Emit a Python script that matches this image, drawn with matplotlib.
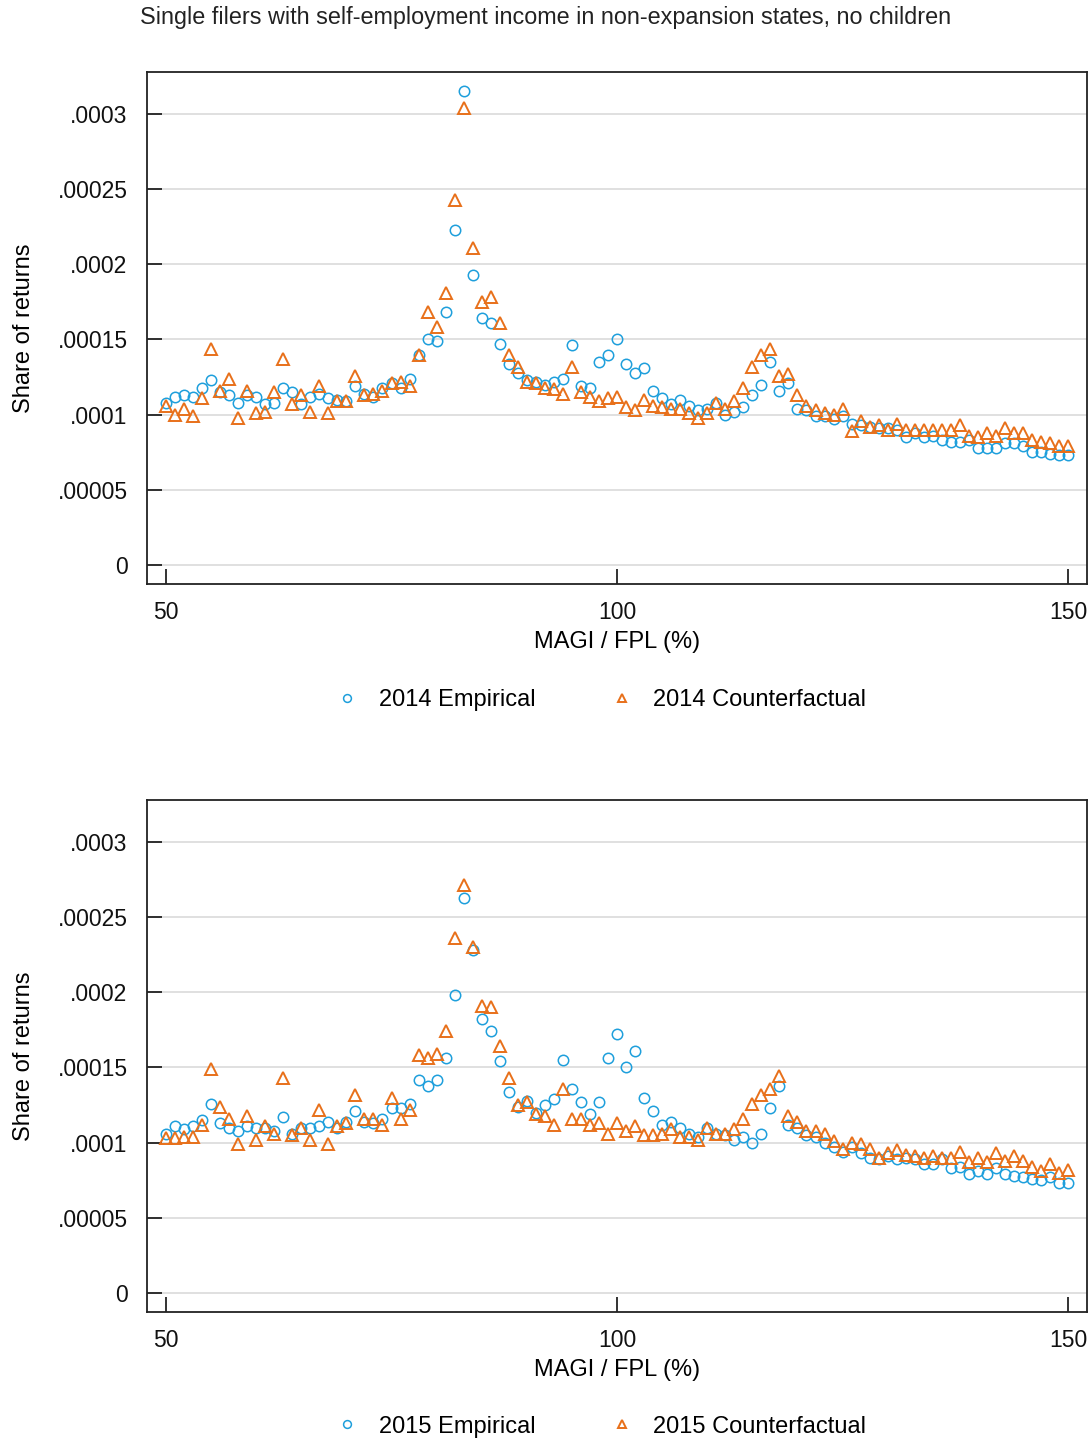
import numpy as np
import matplotlib.pyplot as plt

plt.rcParams['font.family'] = ['Liberation Sans', 'DejaVu Sans']

BLUE = '#1e9fdc'
ORANGE = '#e8701a'

magi = np.arange(50, 151)

# values in units of 1e-5 (share of returns)
emp_2014 = [10.8, 11.2, 11.3, 11.2, 11.8, 12.3, 11.5, 11.3, 10.8, 11.3,
            11.2, 10.7, 10.8, 11.8, 11.5, 10.7, 11.2, 11.4, 11.1, 11.0,
            10.9, 11.9, 11.4, 11.2, 11.8, 12.1, 11.8, 12.4, 14.0, 15.0,
            14.9, 16.8, 22.3, 31.5, 19.3, 16.4, 16.1, 14.7, 13.4, 12.8,
            12.3, 12.2, 12.0, 12.2, 12.4, 14.6, 11.9, 11.8, 13.5, 14.0,
            15.0, 13.4, 12.8, 13.1, 11.6, 11.1, 10.7, 11.0, 10.6, 10.3,
            10.4, 10.8, 10.0, 10.2, 10.5, 11.3, 12.0, 13.5, 11.6, 12.1,
            10.4, 10.3, 9.9, 9.9, 9.7, 9.9, 9.4, 9.3, 9.2, 9.1,
            9.1, 9.0, 8.5, 8.8, 8.5, 8.6, 8.3, 8.2, 8.2, 8.3,
            7.8, 7.8, 7.8, 8.1, 8.1, 7.9, 7.5, 7.5, 7.4, 7.3,
            7.3]
cf_2014 = [10.6, 10.0, 10.4, 9.9, 11.1, 14.4, 11.6, 12.4, 9.8, 11.6,
           10.1, 10.2, 11.5, 13.7, 10.7, 11.3, 10.2, 11.9, 10.1, 10.9,
           10.9, 12.6, 11.3, 11.4, 11.6, 12.1, 12.2, 11.9, 14.0, 16.8,
           15.8, 18.1, 24.3, 30.4, 21.1, 17.5, 17.8, 16.1, 14.0, 13.2,
           12.2, 12.1, 11.8, 11.7, 11.4, 13.2, 11.5, 11.2, 10.9, 11.1,
           11.2, 10.5, 10.3, 11.0, 10.6, 10.5, 10.4, 10.4, 10.1, 9.8,
           10.1, 10.8, 10.4, 10.9, 11.8, 13.2, 14.0, 14.4, 12.6, 12.7,
           11.3, 10.6, 10.3, 10.1, 10.0, 10.4, 8.9, 9.6, 9.2, 9.3,
           9.0, 9.4, 9.0, 9.0, 9.0, 9.0, 9.0, 9.0, 9.3, 8.6,
           8.5, 8.8, 8.6, 9.1, 8.8, 8.8, 8.3, 8.2, 8.1, 7.9,
           7.9]
emp_2015 = [10.6, 11.1, 10.9, 11.1, 11.5, 12.6, 11.3, 11.0, 10.8, 11.1,
            11.0, 11.0, 10.8, 11.7, 10.6, 11.0, 11.0, 11.1, 11.4, 11.0,
            11.4, 12.1, 11.4, 11.3, 11.6, 12.3, 12.3, 12.6, 14.2, 13.8,
            14.2, 15.6, 19.8, 26.3, 22.8, 18.2, 17.4, 15.4, 13.4, 12.4,
            12.8, 12.0, 12.5, 12.9, 15.5, 13.6, 12.7, 11.9, 12.7, 15.6,
            17.2, 15.0, 16.1, 13.0, 12.1, 11.2, 11.4, 11.0, 10.6, 10.4,
            11.0, 10.6, 10.5, 10.2, 10.4, 10.0, 10.6, 12.3, 13.8, 11.2,
            11.0, 10.5, 10.4, 10.0, 9.7, 9.4, 9.7, 9.3, 9.0, 8.9,
            9.1, 8.9, 9.0, 8.9, 8.6, 8.6, 8.9, 8.3, 8.4, 7.9,
            8.1, 7.9, 8.3, 7.9, 7.8, 7.7, 7.6, 7.5, 7.7, 7.3,
            7.3]
cf_2015 = [10.3, 10.3, 10.4, 10.4, 11.2, 14.9, 12.4, 11.6, 9.9, 11.8,
           10.2, 11.1, 10.6, 14.3, 10.5, 11.0, 10.2, 12.2, 9.9, 11.1,
           11.3, 13.2, 11.6, 11.6, 11.2, 13.0, 11.6, 12.2, 15.8, 15.6,
           15.9, 17.4, 23.6, 27.1, 23.0, 19.1, 19.0, 16.4, 14.3, 12.5,
           12.7, 11.9, 11.8, 11.2, 13.6, 11.6, 11.6, 11.2, 11.3, 10.6,
           11.3, 10.8, 11.1, 10.5, 10.5, 10.6, 10.9, 10.4, 10.4, 10.2,
           11.0, 10.6, 10.6, 10.9, 11.6, 12.6, 13.2, 13.6, 14.4, 11.8,
           11.4, 10.8, 10.8, 10.6, 10.1, 9.6, 10.0, 9.9, 9.6, 9.0,
           9.3, 9.5, 9.2, 9.1, 9.0, 9.1, 9.0, 9.0, 9.4, 8.7,
           9.0, 8.7, 9.3, 8.8, 9.1, 8.8, 8.4, 8.1, 8.6, 8.0,
           8.2]

panels = [("2014", emp_2014, cf_2014), ("2015", emp_2015, cf_2015)]

yticks = [0, 0.00005, 0.0001, 0.00015, 0.0002, 0.00025, 0.0003]
yticklabels = ["0", ".00005", ".0001", ".00015", ".0002", ".00025", ".0003"]

fig = plt.figure(figsize=(10.9, 14.41), dpi=100)
fig.text(0.128, 0.988, "Single filers with self-employment income in non-expansion states, no children",
         fontsize=16.8, ha='left', va='center', color='#222222')

bottoms = [0.5947, 0.0895]
legend_y = [0.514, 0.010]
for (year, emp, cf), b, ly in zip(panels, bottoms, legend_y):
    ax = fig.add_axes([0.1349, b, 0.8624, 0.3555])
    ax.plot(magi, np.array(emp) * 1e-5, 'o', ms=7.5, mfc='none', mec=BLUE, mew=1.1,
            label=year + " Empirical", zorder=3)
    ax.plot(magi, np.array(cf) * 1e-5, '^', ms=8, mfc='none', mec=ORANGE, mew=1.4,
            label=year + " Counterfactual", zorder=3)
    ax.set_xlim(47.9, 152.1)
    ax.set_ylim(-0.0000126, 0.000328)
    ax.set_xticks([50, 100, 150])
    ax.set_yticks(yticks)
    ax.set_yticklabels(yticklabels)
    ax.tick_params(direction='in', length=11, width=1.2, labelsize=16.5, colors='#111111')
    ax.tick_params(axis='x', pad=12)
    ax.tick_params(axis='y', pad=14)
    ax.yaxis.grid(True, color='#dddddd', lw=1.3)
    ax.set_axisbelow(True)
    for s in ax.spines.values():
        s.set_linewidth(1.3)
        s.set_color('#222222')
    ax.set_ylabel("Share of returns", fontsize=17, labelpad=16)
    ax.set_xlabel("MAGI / FPL (%)", fontsize=17, labelpad=5)
    fig.legend(*ax.get_legend_handles_labels(), loc='center', bbox_to_anchor=(0.5485, ly),
               ncol=2, frameon=False, fontsize=17, markerscale=0.75, handletextpad=0.6,
               handlelength=1.5, columnspacing=2.9)

plt.savefig("out.png", dpi=100)
